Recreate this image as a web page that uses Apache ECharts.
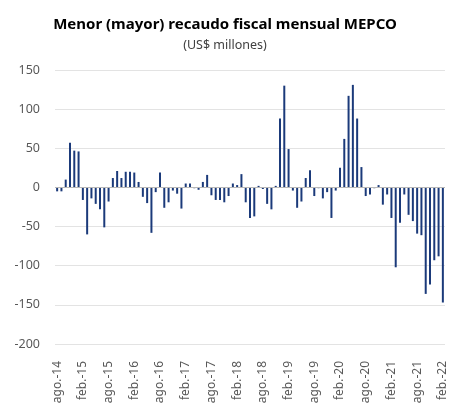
<!DOCTYPE html>
<html>
<head>
<meta charset="utf-8">
<script src="https://cdn.jsdelivr.net/npm/echarts@6/dist/echarts.min.js"></script>
<style>
html,body{margin:0;padding:0;background:#fff;}
#chart{width:450px;height:407px;}
</style>
</head>
<body>
<div id="chart"></div>
<script>
const monthNames = ['ene.','feb.','mar.','abr.','may.','jun.','jul.','ago.','sept.','oct.','nov.','dic.'];
// Aug 2014 .. Feb 2022
const categories = [];
for (let y = 2014, m = 7; y < 2022 || (y === 2022 && m <= 1); ) {
  categories.push(monthNames[m] + '-' + String(y).slice(2));
  m++; if (m === 12) { m = 0; y++; }
}
const values = [
  -5, -5, 10, 57, 47, 46,            // ago14 - ene15
  -16, -60, -14, -21, -28, -51,      // feb15 - jul15
  -18, 12, 21, 12, 20, 20,           // ago15 - ene16
  19, 7, -12, -20, -58, -6,          // feb16 - jul16
  19, -26, -19, -4, -8, -27,         // ago16 - ene17
  5, 5, -1, -3, 7, 16,               // feb17 - jul17
  -10, -16, -16, -19, -11, 5,        // ago17 - ene18
  3, 17, -19, -39, -37, 2,           // feb18 - jul18
  -2, -21, -28, 2, 88, 130,          // ago18 - ene19
  49, -4, -26, -18, 12, 22,          // feb19 - jul19
  -11, -1, -14, -6, -39, -4,         // ago19 - ene20
  25, 62, 117, 131, 88, 26,          // feb20 - jul20
  -11, -9, -1, 3, -22, -9,           // ago20 - ene21
  -39, -102, -45, -9, -35, -43,      // feb21 - jul21
  -59, -61, -136, -124, -93, -88,    // ago21 - ene22
  -147                               // feb22
];
const yTicks = { min: -200, max: 150, interval: 50 };

const chart = echarts.init(document.getElementById('chart'), null, {renderer: 'canvas'});
const font = '"Noto Sans", "Open Sans", sans-serif';
chart.setOption({
  animation: false,
  title: {
    text: 'Menor (mayor) recaudo fiscal mensual MEPCO',
    subtext: '(US$ millones)',
    left: 'center',
    top: 12,
    itemGap: 7,
    textStyle: { fontFamily: font, fontSize: 15, fontWeight: 'bold', color: '#000' },
    subtextStyle: { fontFamily: font, fontSize: 12.5, color: '#404040' }
  },
  grid: { left: 55, right: 5, top: 70, bottom: 63, containLabel: false },
  xAxis: {
    type: 'category',
    data: categories,
    axisLine: { show: false, onZero: false },
    axisTick: { show: false },
    axisLabel: {
      interval: 5,
      rotate: 90,
      margin: 17,
      fontFamily: font,
      fontSize: 12,
      color: '#595959'
    }
  },
  yAxis: {
    type: 'value',
    min: yTicks.min, max: yTicks.max, interval: yTicks.interval,
    axisLine: { show: false },
    axisTick: { show: false },
    axisLabel: { margin: 15, fontFamily: font, fontSize: 12.5, color: '#595959' },
    splitLine: { lineStyle: { color: '#e3e3e3', width: 1 } }
  },
  series: [{
    type: 'bar',
    data: values,
    barWidth: 2,
    itemStyle: { color: '#1B3A7A' },
    markLine: {
      silent: true,
      symbol: 'none',
      label: { show: false },
      lineStyle: { color: '#b8b8b8', width: 1, type: 'solid' },
      data: [{ yAxis: 0 }]
    }
  }]
});
</script>
</body>
</html>
